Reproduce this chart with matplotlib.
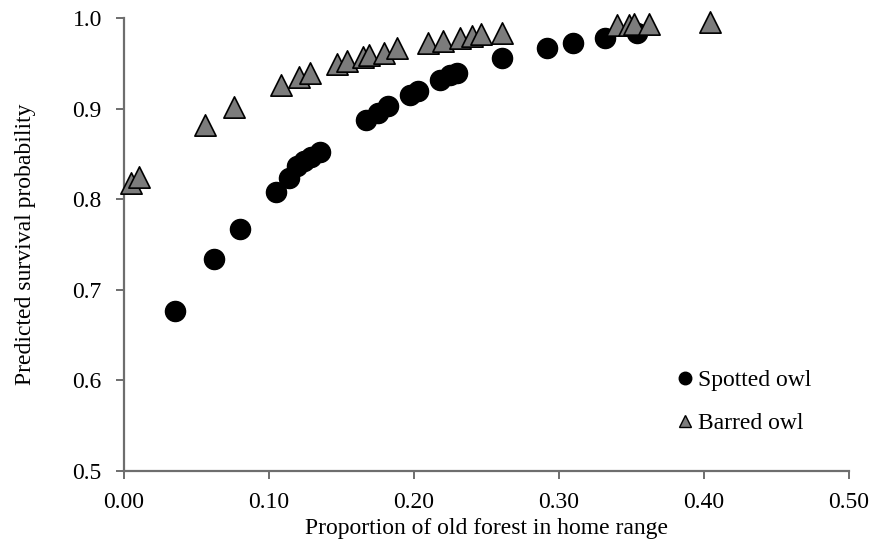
import matplotlib
matplotlib.use("Agg")
import matplotlib.pyplot as plt
from matplotlib.lines import Line2D

spotted_x = [0.035, 0.062, 0.080, 0.105, 0.114, 0.119, 0.124, 0.129, 0.135,
             0.167, 0.175, 0.182, 0.197, 0.203, 0.218, 0.225, 0.230, 0.261,
             0.292, 0.310, 0.332, 0.354]
spotted_y = [0.677, 0.734, 0.767, 0.808, 0.824, 0.837, 0.842, 0.847, 0.852,
             0.887, 0.895, 0.903, 0.915, 0.920, 0.932, 0.937, 0.939, 0.956,
             0.967, 0.972, 0.978, 0.983]

barred_x = [0.005, 0.010, 0.056, 0.076, 0.108, 0.121, 0.128, 0.147, 0.154,
            0.165, 0.169, 0.179, 0.188, 0.210, 0.220, 0.232, 0.240, 0.246,
            0.261, 0.340, 0.348, 0.352, 0.362, 0.404]
barred_y = [0.818, 0.825, 0.882, 0.902, 0.926, 0.935, 0.939, 0.949, 0.953,
            0.957, 0.959, 0.962, 0.967, 0.972, 0.975, 0.978, 0.980, 0.982,
            0.984, 0.992, 0.992, 0.993, 0.993, 0.996]

x_ticks = [0.0, 0.1, 0.2, 0.3, 0.4, 0.5]
x_labels = ["0.00", "0.10", "0.20", "0.30", "0.40", "0.50"]
y_ticks = [0.5, 0.6, 0.7, 0.8, 0.9, 1.0]
y_labels = ["0.5", "0.6", "0.7", "0.8", "0.9", "1.0"]

plt.rcParams['font.family'] = ['Liberation Serif', 'DejaVu Serif']

fig = plt.figure(figsize=(8.76, 5.48), dpi=100)
ax = fig.add_axes([0.1416, 0.1405, 0.8274, 0.8265])

ax.scatter(spotted_x, spotted_y, s=210, marker='o', color='black', zorder=3,
           clip_on=False)
ax.scatter(barred_x, barred_y, s=235, marker='^', facecolor='#7c7c7c',
           edgecolor='black', linewidth=1.2, zorder=3, clip_on=False)

ax.set_xlim(0, 0.5)
ax.set_ylim(0.5, 1.0)
ax.set_xticks(x_ticks)
ax.set_xticklabels(x_labels)
ax.set_yticks(y_ticks)
ax.set_yticklabels(y_labels)

for s in ['top', 'right']:
    ax.spines[s].set_visible(False)
for s in ['left', 'bottom']:
    ax.spines[s].set_color('#6e6e6e')
    ax.spines[s].set_linewidth(1.6)
ax.tick_params(direction='out', length=6, width=1.4, color='#6e6e6e',
               labelsize=17)
ax.tick_params(axis='x', pad=9)
ax.tick_params(axis='y', pad=10)

ax.set_xlabel("Proportion of old forest in home range", fontsize=17, labelpad=4)
ax.set_ylabel("Predicted survival probability", fontsize=17, labelpad=26)

handles = [
    Line2D([], [], marker='o', color='black', linestyle='none', markersize=9),
    Line2D([], [], marker='^', markerfacecolor='#7c7c7c', markeredgecolor='black',
           linestyle='none', markersize=9),
]
ax.legend(handles, ["Spotted owl", "Barred owl"], frameon=False, fontsize=17,
          loc='upper left', bbox_to_anchor=(0.745, 0.245), handletextpad=0.05,
          labelspacing=0.9, handlelength=1.0, borderaxespad=0)

fig.savefig("out.png", dpi=100)
